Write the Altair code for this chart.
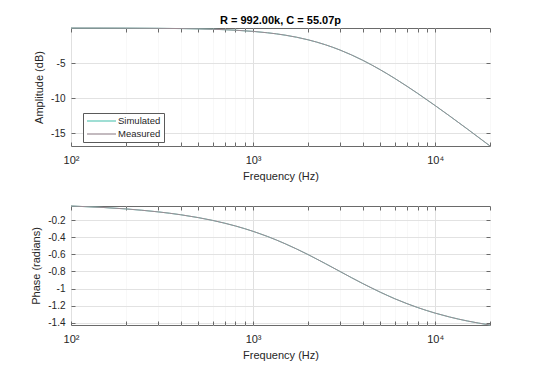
import altair as alt
import pandas as pd

# frequencies (Hz)
freq = [100, 150, 200, 300, 400, 500, 600, 700, 800, 1000, 1200, 1500, 2000,
        2500, 3000, 4000, 5000, 6000, 7000, 8000, 10000, 12000, 15000, 20000]

# amplitude (dB)
sim_amp = [-0.005, -0.012, -0.020, -0.046, -0.081, -0.126, -0.180, -0.244, -0.316,
           -0.484, -0.681, -1.021, -1.677, -2.397, -3.140, -4.602, -5.962, -7.196,
           -8.308, -9.316, -11.067, -12.546, -14.396, -16.826]
meas_amp = [-0.004, -0.011, -0.021, -0.045, -0.082, -0.125, -0.181, -0.243, -0.317,
            -0.483, -0.682, -1.020, -1.678, -2.396, -3.141, -4.601, -5.963, -7.195,
            -8.309, -9.315, -11.068, -12.545, -14.397, -16.825]

# phase (radians)
sim_ph = [-0.0343, -0.0514, -0.0686, -0.1026, -0.1365, -0.1700, -0.2031, -0.2358,
          -0.2680, -0.3307, -0.3908, -0.4757, -0.6017, -0.7092, -0.8002, -0.9413,
          -1.0430, -1.1190, -1.1765, -1.2214, -1.2874, -1.3326, -1.3790, -1.4262]
meas_ph = [-0.0340, -0.0516, -0.0684, -0.1028, -0.1363, -0.1702, -0.2029, -0.2360,
           -0.2678, -0.3309, -0.3906, -0.4759, -0.6015, -0.7094, -0.8000, -0.9415,
           -1.0428, -1.1192, -1.1763, -1.2216, -1.2872, -1.3328, -1.3788, -1.4262]

series_names = ["Simulated", "Measured"]
series_colors = ["#5ec8b8", "#9c8c94"]

x_ticks = [100, 200, 300, 400, 500, 600, 700, 800, 900,
           1000, 2000, 3000, 4000, 5000, 6000, 7000, 8000, 9000, 10000, 20000]
amp_ticks = [-15, -10, -5]
ph_ticks = [-1.4, -1.2, -1.0, -0.8, -0.6, -0.4, -0.2]

rows = []
for i, f in enumerate(freq):
    rows.append({"f": f, "series": "Simulated", "amp": sim_amp[i], "ph": sim_ph[i], "k": 0})
for i, f in enumerate(freq):
    rows.append({"f": f, "series": "Measured", "amp": meas_amp[i], "ph": meas_ph[i], "k": 1})
df = pd.DataFrame(rows)

FONT = "Liberation Sans"
TXT = "#262626"
FRAME = "#6a6a6a"
W = 419

xlab = ("datum.value == 100 ? '10²' : datum.value == 1000 ? '10³' : "
        "datum.value == 10000 ? '10⁴' : ''")
major_test = "datum.value == 100 || datum.value == 1000 || datum.value == 10000"

xscale = alt.Scale(type="log", domain=[100, 20000], nice=False)


def x_axis_bottom():
    return alt.Axis(values=x_ticks, labelExpr=xlab, title="Frequency (Hz)",
                    offset=-4, tickSize=4, tickColor=FRAME, domain=False,
                    grid=True,
                    gridColor={"condition": {"test": major_test, "value": "#e0e0e0"},
                               "value": "#f8f8f8"},
                    labelFontSize=11, labelPadding=8, titleFontSize=11,
                    titleFontWeight="normal", titlePadding=5, labelFlush=False,
                    labelOverlap=False)


def x_axis_top():
    return alt.Axis(values=x_ticks, orient="top", labels=False, title=None,
                    offset=-4, tickSize=4, tickColor=FRAME, domain=False, grid=False)


def y_axis_left(vals, title):
    return alt.Axis(values=vals, labelExpr="'' + datum.value", title=title,
                    offset=-4, tickSize=4, tickColor=FRAME, domain=False,
                    grid=True, gridColor="#e2e2e2", labelFontSize=10,
                    labelPadding=6, titleFontSize=11, titleFontWeight="normal",
                    titlePadding=6, labelFlush=False)


def y_axis_right(vals):
    return alt.Axis(values=vals, orient="right", labels=False, title=None,
                    offset=-4, tickSize=4, tickColor=FRAME, domain=False, grid=False)


color = alt.Color("series:N",
                  scale=alt.Scale(domain=series_names, range=series_colors),
                  legend=alt.Legend(title=None, orient="none", legendX=12, legendY=85,
                                    strokeColor="#5a5a5a", fillColor="white",
                                    padding=3, symbolType="M-1,0H6.25",
                                    symbolStrokeWidth=1.2, symbolSize=64,
                                    labelOffset=22,
                                    labelFontSize=9.5, labelFont=FONT,
                                    labelColor=TXT, rowPadding=3))


def panel(field, yscale, vals, title, legend=True, h=119):
    base = alt.Chart(df)
    line = base.mark_line(strokeWidth=1, interpolate="monotone").encode(
        x=alt.X("f:Q", scale=xscale, axis=x_axis_bottom()),
        y=alt.Y(f"{field}:Q", scale=yscale, axis=y_axis_left(vals, title)),
        color=color if legend else alt.Color("series:N",
                                             scale=alt.Scale(domain=series_names,
                                                             range=series_colors),
                                             legend=None),
        order="k:Q",
    )
    ghost = base.mark_line(opacity=0).encode(
        x=alt.X("f:Q", scale=xscale, axis=x_axis_top()),
        y=alt.Y(f"{field}:Q", scale=yscale, axis=y_axis_right(vals)),
    )
    return alt.layer(line, ghost).resolve_axis(x="independent", y="independent").properties(
        width=W, height=h)


top = panel("amp", alt.Scale(domain=[-16.83, 0.0], nice=False, zero=False),
            amp_ticks, "Amplitude (dB)", legend=True, h=118).properties(
    title=alt.TitleParams("R = 992.00k, C = 55.07p", fontSize=11, fontWeight="bold",
                          font=FONT, color="#000000", offset=0, anchor="middle"))

bottom = panel("ph", alt.Scale(domain=[-1.4262, -0.0343], nice=False, zero=False),
               ph_ticks, "Phase (radians)", legend=False, h=119)

chart = alt.vconcat(top, bottom, spacing=21).properties(
    padding={"left": 22, "top": 6, "right": 5, "bottom": 5},
    background="white",
).configure_view(stroke=FRAME, strokeWidth=1).configure_axis(
    labelFont=FONT, titleFont=FONT, labelColor=TXT, titleColor=TXT
)

chart.save("out.html", embed_options={"renderer": "svg", "actions": False})
